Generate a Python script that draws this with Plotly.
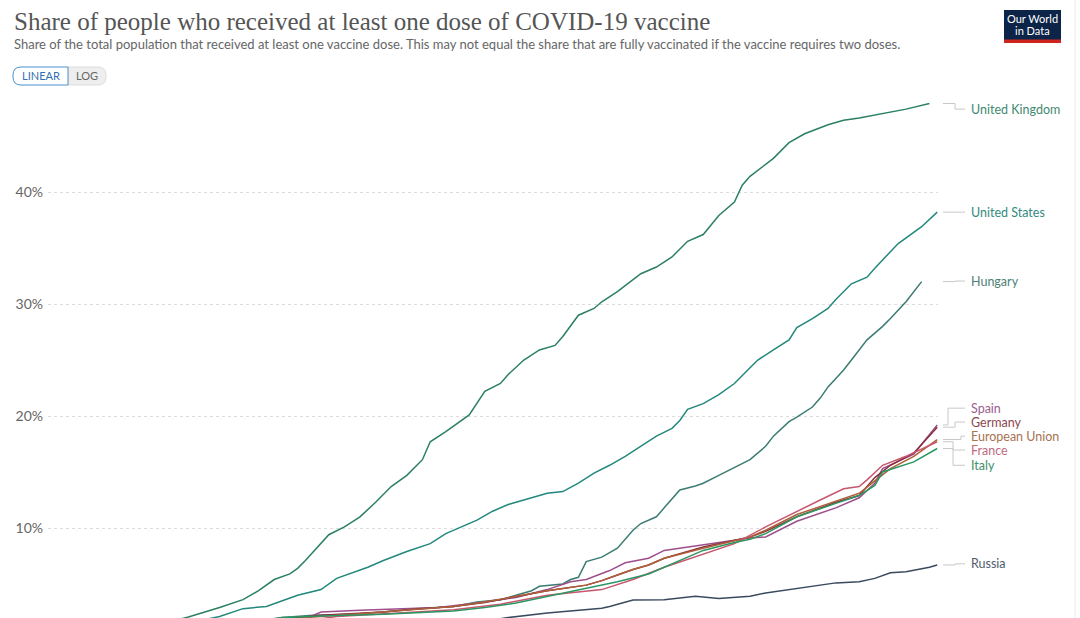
import datetime as dt
import plotly.graph_objects as go

START = dt.date(2020, 12, 21)

def dates(days):
    return [(START + dt.timedelta(days=d)).isoformat() for d in days]

# ---- data (day offsets from 2020-12-21, share of population in %) ----
uk_days = [16, 18, 22, 25, 27, 29, 31, 32, 33, 34, 36, 38, 40, 42, 43, 44, 46, 48, 49, 51, 54, 56, 58, 59, 61, 63,
           65, 66, 68, 70, 71, 73, 76, 78, 80, 82, 84, 86, 88, 89, 90, 93, 95, 97, 100, 102, 104, 107, 109, 110, 113]
uk_vals = [1.7, 2.05, 2.9, 3.6, 4.4, 5.4, 5.9, 6.4, 7.1, 7.9, 9.4, 10.1, 11.0, 12.3, 13.0, 13.7, 14.7, 16.1, 17.7,
           18.6, 20.1, 22.2, 22.9, 23.7, 25.0, 25.9, 26.3, 27.1, 29.0, 29.6, 30.2, 31.1, 32.7, 33.3, 34.2, 35.6, 36.2,
           37.9, 39.1, 40.6, 41.4, 43.0, 44.4, 45.2, 46.0, 46.4, 46.6, 47.0, 47.3, 47.4, 47.9]

us_days = [20, 22, 25, 28, 32, 35, 37, 41, 43, 46, 49, 51, 53, 55, 57, 59, 62, 64, 66, 68, 70, 72, 74, 76, 78, 80,
           81, 82, 84, 86, 88, 90, 91, 93, 95, 96, 98, 100, 101, 103, 105, 106, 109, 112, 114]
us_vals = [1.8, 2.1, 2.8, 3.0, 4.0, 4.5, 5.5, 6.5, 7.1, 7.9, 8.6, 9.5, 10.1, 10.7, 11.5, 12.1, 12.7, 13.1, 13.25,
           14.0, 14.9, 15.6, 16.4, 17.3, 18.2, 18.9, 19.6, 20.6, 21.1, 21.9, 22.9, 24.3, 25.0, 25.9, 26.8, 27.9,
           28.7, 29.6, 30.4, 31.8, 32.4, 33.2, 35.4, 36.9, 38.2]

hu_days = [28, 30, 34, 39, 43, 47, 52, 55, 58, 60, 62, 63, 66, 67, 68, 69, 71, 73, 75, 76, 78, 79, 81, 83, 84, 86,
           90, 92, 93, 95, 96, 98, 99, 100, 102, 103, 105, 107, 108, 110, 112]
hu_vals = [1.8, 2.0, 2.2, 2.3, 2.5, 2.8, 3.0, 3.4, 3.6, 4.0, 4.4, 4.8, 5.0, 5.4, 5.6, 7.0, 7.4, 8.2, 9.8, 10.4,
           11.0, 11.8, 13.4, 13.75, 14.0, 14.7, 16.1, 17.3, 18.2, 19.5, 19.9, 20.8, 21.6, 22.6, 24.1, 25.0, 26.8,
           28.0, 28.7, 30.2, 32.0]

es_days = [33, 35, 40, 45, 50, 55, 60, 64, 67, 69, 72, 74, 77, 79, 84, 88, 90, 92, 96, 101, 104, 106, 107, 111, 114]
es_vals = [1.9, 2.5, 2.65, 2.75, 2.9, 3.3, 3.8, 4.5, 5.2, 5.4, 6.2, 6.9, 7.3, 8.0, 8.5, 8.9, 9.1, 9.2, 10.6, 11.8,
           12.7, 14.0, 15.3, 16.6, 19.2]

de_days = [30, 32, 35, 39, 43, 47, 52, 56, 60, 64, 69, 71, 73, 75, 77, 79, 84, 88, 90, 92, 96, 101, 104, 106, 108,
           111, 114]
de_vals = [1.8, 2.0, 2.2, 2.35, 2.5, 2.75, 3.0, 3.35, 3.9, 4.4, 4.9, 5.3, 5.8, 6.3, 6.7, 7.3, 8.3, 8.9, 9.2, 9.7,
           11.0, 12.3, 12.9, 14.5, 15.6, 16.7, 19.0]

eu_days = [31, 33, 39, 43, 47, 52, 56, 60, 64, 69, 71, 73, 75, 77, 79, 84, 88, 90, 92, 96, 101, 104, 106, 108, 111,
           114]
eu_vals = [1.8, 2.0, 2.3, 2.5, 2.75, 3.0, 3.4, 3.9, 4.4, 4.9, 5.3, 5.8, 6.3, 6.7, 7.3, 8.2, 8.9, 9.2, 9.8, 11.2,
           12.4, 13.1, 14.2, 15.3, 16.4, 17.9]

fr_days = [35, 37, 45, 52, 58, 64, 71, 75, 79, 84, 88, 92, 96, 99, 102, 104, 105, 107, 110, 114]
fr_vals = [1.9, 2.1, 2.4, 2.7, 3.2, 4.0, 4.5, 5.4, 6.5, 7.7, 8.6, 10.1, 11.5, 12.5, 13.5, 13.7, 14.3, 15.6, 16.4,
           17.7]

it_days = [28, 30, 35, 43, 52, 56, 60, 64, 69, 73, 77, 79, 84, 88, 90, 92, 96, 101, 104, 106, 107, 111, 114]
it_vals = [1.8, 2.0, 2.15, 2.3, 2.6, 2.9, 3.3, 3.9, 4.6, 5.2, 5.9, 6.5, 8.0, 8.7, 9.0, 9.5, 11.0, 12.2, 12.9, 13.8,
           15.0, 15.9, 17.1]

ru_days = [57, 59, 64, 69, 71, 72, 74, 75, 79, 83, 86, 90, 92, 96, 101, 104, 106, 108, 110, 113, 114]
ru_vals = [1.8, 2.0, 2.4, 2.7, 2.83, 3.0, 3.4, 3.57, 3.6, 3.9, 3.7, 3.9, 4.2, 4.6, 5.1, 5.2, 5.5, 6.0, 6.1, 6.5, 6.7]

countries = ["United Kingdom", "United States", "Hungary", "Spain", "Germany",
             "European Union", "France", "Italy", "Russia"]
series_days = [uk_days, us_days, hu_days, es_days, de_days, eu_days, fr_days, it_days, ru_days]
series_vals = [uk_vals, us_vals, hu_vals, es_vals, de_vals, eu_vals, fr_vals, it_vals, ru_vals]

y_tick_vals = [10, 20, 30, 40]
y_tick_text = ["10%", "20%", "30%", "40%"]

# ---- styles ----
line_colors = {"United Kingdom": "#2b8060", "United States": "#22887c", "Hungary": "#3b7c72",
               "Spain": "#9d4f8c", "Germany": "#8a2e3d", "European Union": "#ae6038",
               "France": "#c8566e", "Italy": "#2a9763", "Russia": "#3a4a5e"}
label_colors = {"United Kingdom": "#3f8a70", "United States": "#338a80", "Hungary": "#4d7f78",
                "Spain": "#9a5e8e", "Germany": "#8a4650", "European Union": "#a8724f",
                "France": "#c06a80", "Italy": "#3e8f6c", "Russia": "#505c6c"}
# label vertical position (value units) and elbow x (px)
label_pos = {"United Kingdom": (47.4, 955), "United States": (38.2, 955), "Hungary": (32.05, 955),
             "Spain": (20.7, 948), "Germany": (19.46, 955), "European Union": (18.2, 961),
             "France": (16.96, 953), "Italy": (15.6, 953), "Russia": (6.8, 955)}

L, R, T = 48, 938, 90
W, H = 1080, 618
YMIN, YMAX = (640 - 618) / 11.2, 40 + (192 - 90) / 11.2

def fx(px):
    return (px - L) / (R - L)

def fy(py):
    return (H - py) / (H - T)

fig = go.Figure()
for name, d, v in zip(countries, series_days, series_vals):
    fig.add_trace(go.Scatter(x=dates(d), y=v, mode="lines", name=name,
                             line=dict(color=line_colors[name], width=1.5),
                             hoverinfo="skip", showlegend=False))

shapes = []
annotations = []
for name, v in zip(countries, series_vals):
    ly, ex = label_pos[name]
    endv = v[-1]
    path = f"M {fx(943)},{endv} L {fx(ex)},{endv} L {fx(ex)},{ly} L {fx(965)},{ly}"
    shapes.append(dict(type="path", path=path, xref="paper", yref="y",
                       line=dict(color="#c8c8c8", width=1)))
    annotations.append(dict(x=fx(969), y=ly, xref="paper", yref="y", text=name, showarrow=False,
                            xanchor="left", yanchor="middle",
                            font=dict(family="Lato", size=12.5, color=label_colors[name])))

# title & subtitle
annotations.append(dict(x=fx(12), y=fy(22), xref="paper", yref="paper", showarrow=False,
                        xanchor="left", yanchor="middle",
                        text="Share of people who received at least one dose of COVID-19 vaccine",
                        font=dict(family="Liberation Serif", size=25, color="#555555")))
annotations.append(dict(x=fx(12), y=fy(44), xref="paper", yref="paper", showarrow=False,
                        xanchor="left", yanchor="middle",
                        text="Share of the total population that received at least one vaccine dose. "
                             "This may not equal the share that are fully vaccinated if the vaccine requires two doses.",
                        font=dict(family="Lato", size=13, color="#666666")))

# LINEAR / LOG toggle
def rounded_left(x0, x1, y0, y1, r):
    return (f"M {fx(x1)},{fy(y0)} L {fx(x0 + r)},{fy(y0)} Q {fx(x0)},{fy(y0)} {fx(x0)},{fy(y0 + r)} "
            f"L {fx(x0)},{fy(y1 - r)} Q {fx(x0)},{fy(y1)} {fx(x0 + r)},{fy(y1)} L {fx(x1)},{fy(y1)} Z")

def rounded_right(x0, x1, y0, y1, r):
    return (f"M {fx(x0)},{fy(y0)} L {fx(x1 - r)},{fy(y0)} Q {fx(x1)},{fy(y0)} {fx(x1)},{fy(y0 + r)} "
            f"L {fx(x1)},{fy(y1 - r)} Q {fx(x1)},{fy(y1)} {fx(x1 - r)},{fy(y1)} L {fx(x0)},{fy(y1)} Z")

shapes.append(dict(type="path", path=rounded_right(68, 106, 67, 85, 8), xref="paper", yref="paper",
                   fillcolor="#eeeeee", line=dict(color="#dddddd", width=1)))
shapes.append(dict(type="path", path=rounded_left(13, 68, 67, 85, 8), xref="paper", yref="paper",
                   fillcolor="#ffffff", line=dict(color="#4a90d0", width=1)))
annotations.append(dict(x=fx(40.5), y=fy(76), xref="paper", yref="paper", showarrow=False,
                        xanchor="center", yanchor="middle",
                        text="LINEAR", font=dict(family="Lato", size=11, color="#2f6fb3")))
annotations.append(dict(x=fx(87), y=fy(76), xref="paper", yref="paper", showarrow=False,
                        xanchor="center", yanchor="middle",
                        text="LOG", font=dict(family="Lato", size=11, color="#666666")))

# logo
shapes.append(dict(type="rect", x0=fx(1004), x1=fx(1061), y0=fy(42), y1=fy(10), xref="paper", yref="paper",
                   fillcolor="#0b2447", line=dict(width=0)))
shapes.append(dict(type="rect", x0=fx(1004), x1=fx(1061), y0=fy(43), y1=fy(39.5), xref="paper", yref="paper",
                   fillcolor="#ce261e", line=dict(width=0)))
annotations.append(dict(x=fx(1032.5), y=fy(19), xref="paper", yref="paper", showarrow=False,
                        xanchor="center", yanchor="middle",
                        text="Our World", font=dict(family="Lato", size=11, color="#ffffff")))
annotations.append(dict(x=fx(1032.5), y=fy(31), xref="paper", yref="paper", showarrow=False,
                        xanchor="center", yanchor="middle",
                        text="in Data", font=dict(family="Lato", size=11, color="#ffffff")))

# faint frame line on right
shapes.append(dict(type="line", x0=fx(1075), x1=fx(1075), y0=0, y1=fy(0), xref="paper", yref="paper",
                   line=dict(color="#ececec", width=1)))

end_day = 114.1
x_end = (dt.datetime(2020, 12, 21) + dt.timedelta(days=end_day)).isoformat()

fig.update_layout(
    width=W, height=H,
    margin=dict(l=L, r=W - R, t=T, b=0, pad=0),
    paper_bgcolor="#ffffff", plot_bgcolor="#ffffff",
    showlegend=False,
    shapes=shapes, annotations=annotations,
    xaxis=dict(range=["2020-12-21", x_end], showgrid=False, zeroline=False, showline=False,
               showticklabels=False, ticks=""),
    yaxis=dict(range=[YMIN, YMAX], tickmode="array", tickvals=y_tick_vals, ticktext=y_tick_text,
               showgrid=True, gridcolor="#dddddd", griddash="dot", gridwidth=1,
               zeroline=False, showline=False, ticks="", ticklabelstandoff=4,
               tickfont=dict(family="Lato", size=14, color="#666666")),
)

fig.write_html("out.html")
